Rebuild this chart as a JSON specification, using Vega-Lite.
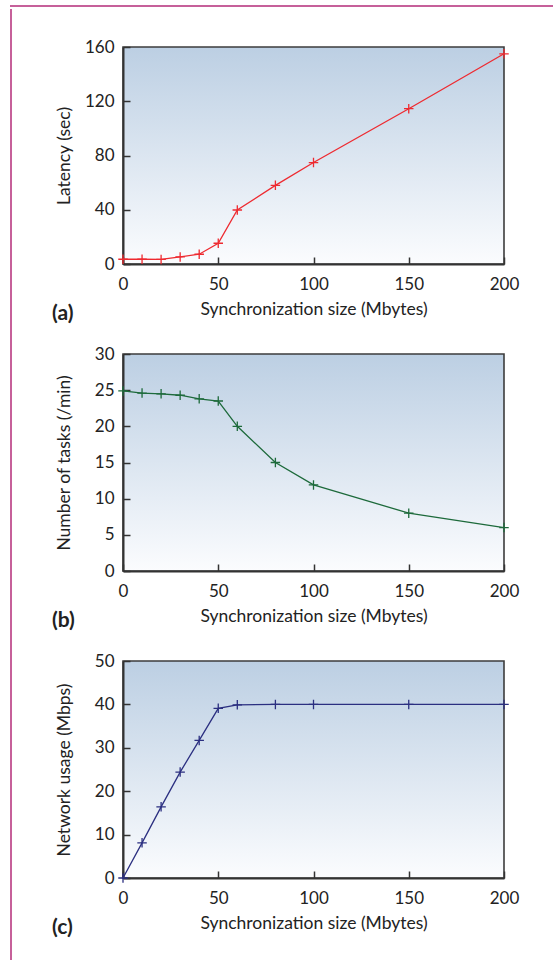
{
  "$schema": "https://vega.github.io/schema/vega-lite/v6.json",
  "padding": {"left": 9, "top": 5, "right": 0, "bottom": 0},
  "background": "white",
  "datasets": {
    "d": [
      {"size": 0, "latency": 3.5, "tasks": 24.9, "network": 0},
      {"size": 10, "latency": 3.5, "tasks": 24.6, "network": 8.1},
      {"size": 20, "latency": 3.4, "tasks": 24.5, "network": 16.4},
      {"size": 30, "latency": 5.2, "tasks": 24.3, "network": 24.4},
      {"size": 40, "latency": 7.2, "tasks": 23.8, "network": 31.7},
      {"size": 50, "latency": 15.3, "tasks": 23.5, "network": 39.1},
      {"size": 60, "latency": 39.8, "tasks": 20, "network": 39.9},
      {"size": 80, "latency": 58, "tasks": 15, "network": 40},
      {"size": 100, "latency": 74.8, "tasks": 11.9, "network": 40},
      {"size": 150, "latency": 114.5, "tasks": 8, "network": 40},
      {"size": 200, "latency": 155, "tasks": 6, "network": 40}
    ],
    "none": []
  },
  "spacing": 0,
  "vconcat": [
    {
      "width": 543,
      "height": 0.01,
      "view": {"stroke": "#c6609a", "strokeWidth": 2, "fill": null},
      "data": {"name": "none"},
      "mark": {"type": "text", "text": ""}
    },
    {
      "spacing": 38,
      "hconcat": [
        {
          "width": 0.01,
          "height": 953,
          "view": {"stroke": "#c6609a", "strokeWidth": 2, "strokeCap": "square", "fill": null},
          "data": {"name": "none"},
          "mark": {"type": "text", "text": ""}
        },
        {
          "spacing": 26,
          "vconcat": [
            {
              "width": 381,
              "height": 1,
              "view": {"stroke": null, "fill": null},
              "data": {"name": "none"},
              "mark": {"type": "text", "text": ""}
            },
            {
              "spacing": 90,
              "bounds": "flush",
              "vconcat": [
                {
                  "width": 381,
                  "height": 217,
                  "view": {"fill": {"gradient": "linear", "x1": 0, "y1": 0, "x2": 0, "y2": 1, "stops": [{"offset": 0, "color": "#bccfe3"}, {"offset": 1, "color": "#fbfcfe"}]}},
                  "title": {"text": "(a)", "orient": "bottom", "anchor": "start", "frame": "group", "dx": -71, "offset": -15},
                  "data": {"name": "d"},
                  "encoding": {
                    "x": {"field": "size", "type": "quantitative", "scale": {"domain": [0, 200], "nice": false}, "axis": {"values": [0, 50, 100, 150, 200], "title": "Synchronization size (Mbytes)"}},
                    "y": {"field": "latency", "type": "quantitative", "scale": {"domain": [0, 160], "nice": false}, "axis": {"values": [0, 40, 80, 120, 160], "title": "Latency (sec)"}}
                  },
                  "layer": [
                    {"mark": {"type": "line", "color": "#ee2a30", "strokeWidth": 1.3}},
                    {"mark": {"type": "point", "shape": "M-1,0H1M0,-1V1", "filled": false, "size": 90, "color": "#ee2a30", "strokeWidth": 1.3, "opacity": 1}}
                  ]
                },
                {
                  "width": 381,
                  "height": 217,
                  "view": {"fill": {"gradient": "linear", "x1": 0, "y1": 0, "x2": 0, "y2": 1, "stops": [{"offset": 0, "color": "#bccfe3"}, {"offset": 1, "color": "#fbfcfe"}]}},
                  "title": {"text": "(b)", "orient": "bottom", "anchor": "start", "frame": "group", "dx": -71, "offset": -15},
                  "data": {"name": "d"},
                  "encoding": {
                    "x": {"field": "size", "type": "quantitative", "scale": {"domain": [0, 200], "nice": false}, "axis": {"values": [0, 50, 100, 150, 200], "title": "Synchronization size (Mbytes)"}},
                    "y": {"field": "tasks", "type": "quantitative", "scale": {"domain": [0, 30], "nice": false}, "axis": {"values": [0, 5, 10, 15, 20, 25, 30], "title": "Number of tasks (/min)"}}
                  },
                  "layer": [
                    {"mark": {"type": "line", "color": "#1d6a3b", "strokeWidth": 1.3}},
                    {"mark": {"type": "point", "shape": "M-1,0H1M0,-1V1", "filled": false, "size": 90, "color": "#1d6a3b", "strokeWidth": 1.3, "opacity": 1}}
                  ]
                },
                {
                  "width": 381,
                  "height": 217,
                  "view": {"fill": {"gradient": "linear", "x1": 0, "y1": 0, "x2": 0, "y2": 1, "stops": [{"offset": 0, "color": "#bccfe3"}, {"offset": 1, "color": "#fbfcfe"}]}},
                  "title": {"text": "(c)", "orient": "bottom", "anchor": "start", "frame": "group", "dx": -71, "offset": -15},
                  "data": {"name": "d"},
                  "encoding": {
                    "x": {"field": "size", "type": "quantitative", "scale": {"domain": [0, 200], "nice": false}, "axis": {"values": [0, 50, 100, 150, 200], "title": "Synchronization size (Mbytes)"}},
                    "y": {"field": "network", "type": "quantitative", "scale": {"domain": [0, 50], "nice": false}, "axis": {"values": [0, 10, 20, 30, 40, 50], "title": "Network usage (Mbps)"}}
                  },
                  "layer": [
                    {"mark": {"type": "line", "color": "#2b2f80", "strokeWidth": 1.3}},
                    {"mark": {"type": "point", "shape": "M-1,0H1M0,-1V1", "filled": false, "size": 90, "color": "#2b2f80", "strokeWidth": 1.3, "opacity": 1}}
                  ]
                }
              ]
            }
          ]
        }
      ]
    }
  ],
  "config": {
    "font": "Lato",
    "view": {"stroke": "#3c3c3c", "strokeWidth": 1.6},
    "axis": {
      "grid": false,
      "domainColor": "#333333",
      "domainWidth": 2,
      "tickColor": "#333333",
      "tickWidth": 1.5,
      "tickSize": -7,
      "labelPadding": 16,
      "labelFlush": false,
      "labelFont": "Lato",
      "labelFontSize": 17,
      "labelColor": "#222222",
      "titleFont": "Lato",
      "titleFontSize": 17.5,
      "titleFontWeight": "normal",
      "titleColor": "#222222"
    },
    "axisY": {"minExtent": 40, "maxExtent": 40, "titlePadding": 10},
    "axisX": {"titlePadding": 8, "labelPadding": 19},
    "title": {"font": "Lato", "fontSize": 21, "fontWeight": "bold", "color": "#222222"}
  }
}
